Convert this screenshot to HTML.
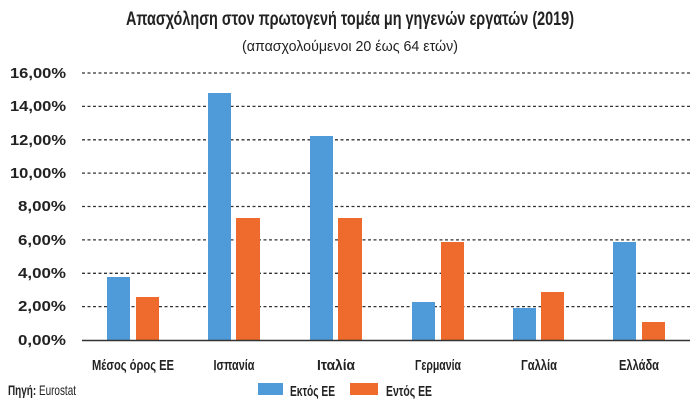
<!DOCTYPE html>
<html><head><meta charset="utf-8"><style>
body{margin:0;background:#fff}
svg{display:block;font-family:"Liberation Sans","DejaVu Sans",sans-serif}
</style></head><body>
<svg width="700" height="404" viewBox="0 0 700 404" xmlns="http://www.w3.org/2000/svg">
<rect width="700" height="404" fill="#fff"/>
<text x="350" y="25" text-anchor="middle" font-size="19" font-weight="bold" fill="#222" textLength="448" lengthAdjust="spacingAndGlyphs">Απασχόληση στον πρωτογενή τομέα μη γηγενών εργατών (2019)</text>
<text x="350" y="51" text-anchor="middle" font-size="15" fill="#222" textLength="216" lengthAdjust="spacingAndGlyphs">(απασχολούμενοι 20 έως 64 ετών)</text>
<g stroke="#333" stroke-width="1.3" stroke-dasharray="3,2.5">
<line x1="82" x2="690" y1="73" y2="73"/><line x1="82" x2="690" y1="106.4" y2="106.4"/>
<line x1="82" x2="690" y1="139.8" y2="139.8"/><line x1="82" x2="690" y1="173.1" y2="173.1"/>
<line x1="82" x2="690" y1="206.5" y2="206.5"/><line x1="82" x2="690" y1="239.9" y2="239.9"/>
<line x1="82" x2="690" y1="273.3" y2="273.3"/><line x1="82" x2="690" y1="306.6" y2="306.6"/>
</g>
<g font-size="15" font-weight="bold" fill="#222" text-anchor="end">
<text x="66" y="78" textLength="56" lengthAdjust="spacingAndGlyphs">16,00%</text>
<text x="66" y="111" textLength="56" lengthAdjust="spacingAndGlyphs">14,00%</text>
<text x="66" y="145" textLength="56" lengthAdjust="spacingAndGlyphs">12,00%</text>
<text x="66" y="178" textLength="56" lengthAdjust="spacingAndGlyphs">10,00%</text>
<text x="66" y="211" textLength="48" lengthAdjust="spacingAndGlyphs">8,00%</text>
<text x="66" y="245" textLength="48" lengthAdjust="spacingAndGlyphs">6,00%</text>
<text x="66" y="278" textLength="48" lengthAdjust="spacingAndGlyphs">4,00%</text>
<text x="66" y="311" textLength="48" lengthAdjust="spacingAndGlyphs">2,00%</text>
<text x="66" y="345" textLength="48" lengthAdjust="spacingAndGlyphs">0,00%</text>
</g>
<g fill="#4f9ad8">
<rect x="107" y="277" width="23" height="63"/>
<rect x="208" y="93" width="23" height="247"/>
<rect x="310" y="136" width="23" height="204"/>
<rect x="412" y="302" width="23" height="38"/>
<rect x="513" y="308" width="23" height="32"/>
<rect x="613" y="242" width="23" height="98"/>
</g>
<g fill="#ee6a2d">
<rect x="136" y="297" width="23" height="43"/>
<rect x="236" y="218" width="24" height="122"/>
<rect x="338" y="218" width="24" height="122"/>
<rect x="441" y="242" width="23" height="98"/>
<rect x="541" y="292" width="23" height="48"/>
<rect x="642" y="322" width="23" height="18"/>
</g>
<line x1="82" x2="690" y1="340.5" y2="340.5" stroke="#333" stroke-width="1.6"/>
<g font-size="15" font-weight="bold" fill="#222" text-anchor="middle">
<text x="133" y="370" textLength="82" lengthAdjust="spacingAndGlyphs">Μέσος όρος ΕΕ</text>
<text x="234" y="370" textLength="41" lengthAdjust="spacingAndGlyphs">Ισπανία</text>
<text x="336" y="370" textLength="38" lengthAdjust="spacingAndGlyphs">Ιταλία</text>
<text x="438" y="370" textLength="46" lengthAdjust="spacingAndGlyphs">Γερμανία</text>
<text x="539" y="370" textLength="36" lengthAdjust="spacingAndGlyphs">Γαλλία</text>
<text x="639" y="370" textLength="40" lengthAdjust="spacingAndGlyphs">Ελλάδα</text>
</g>
<text x="8" y="395" font-size="14" fill="#222" textLength="68" lengthAdjust="spacingAndGlyphs"><tspan font-weight="bold">Πηγή:</tspan> Eurostat</text>
<rect x="258" y="383" width="25" height="12" fill="#4f9ad8"/>
<text x="290" y="396" font-size="15" font-weight="bold" fill="#222" textLength="45" lengthAdjust="spacingAndGlyphs">Εκτός ΕΕ</text>
<rect x="350" y="383" width="28" height="12" fill="#ee6a2d"/>
<text x="386" y="396" font-size="15" font-weight="bold" fill="#222" textLength="46" lengthAdjust="spacingAndGlyphs">Εντός ΕΕ</text>
</svg>
</body></html>
